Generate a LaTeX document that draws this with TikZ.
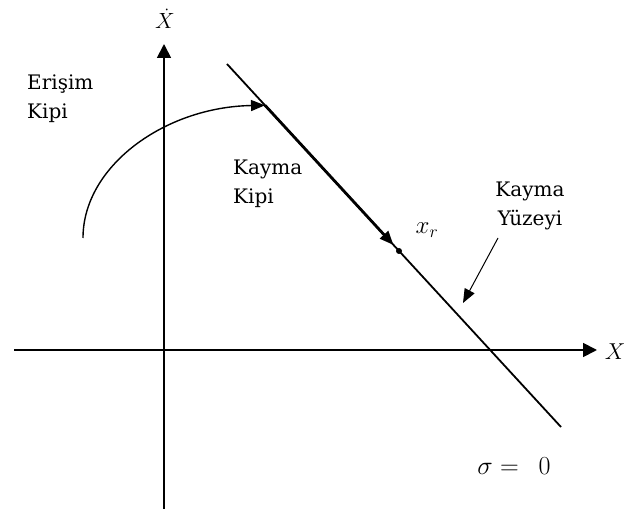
\RequirePackage{fix-cm}
\documentclass[tikz,border=0pt]{standalone}
\usepackage{fontspec}
\setmainfont{DejaVu Serif}
\usetikzlibrary{arrows.meta, positioning}

\begin{document}
\begin{tikzpicture}[x=1pt, y=-1pt,
    axis/.style={line width=1.8pt, -{Triangle[length=14pt, width=14pt]}},
    tip/.style={-{Triangle[length=14pt, width=11pt]}},
    lbl/.style={font=\fontsize{20}{28.5}\selectfont, inner sep=0pt, align=left},
    mth/.style={font=\fontsize{#1}{#1}\selectfont, inner sep=0pt},
]
    \useasboundingbox (0,0) rectangle (638,510);

    % Axes
    \coordinate (xs) at (14,350);
    \coordinate (xe) at (597,350);
    \coordinate (ys) at (164,509);
    \coordinate (ye) at (164,44);
    \draw[axis] (xs) -- (xe);
    \draw[axis] (ys) -- (ye);
    \node[mth=23] (xlab) at (615,352) {$X$};
    \node[mth=22] (ylab) at (165,19) {$\dot{X}$};

    % Sliding surface
    \coordinate (s1) at (227,64);
    \coordinate (s2) at (561,427);
    \draw[line width=1.8pt] (s1) -- (s2);

    % Reaching and sliding motion
    \coordinate (r0) at (83,238);
    \coordinate (hit) at (265,105.3);
    \node[circle, fill, inner sep=0pt, minimum size=6pt] (xr) at (399,251) {};
    \draw[line width=1.4pt, tip] (r0) .. controls (83,166) and (165,107) .. (hit);
    \draw[line width=2.8pt, tip, shorten >=5pt] (hit) -- (xr);
    \node[mth=25] (xrlab) at (427,230) {$x_r$};

    % Labels
    \node[lbl, anchor=north west] (reach) at (27,75) {Erişim\\Kipi};
    \node[lbl, anchor=north west] (slide) at (233,160) {Kayma\\Kipi};
    \node[lbl, anchor=north, align=center] (surf) at (530,182) {Kayma\\Yüzeyi};
    \coordinate (sa) at (498,238);
    \coordinate (sb) at (463,303);
    \draw[line width=1pt, tip] (sa) -- (sb);
    \node[mth=26] (sigma) at (514,466) {$\sigma =\ \,0$};
\end{tikzpicture}
\end{document}
